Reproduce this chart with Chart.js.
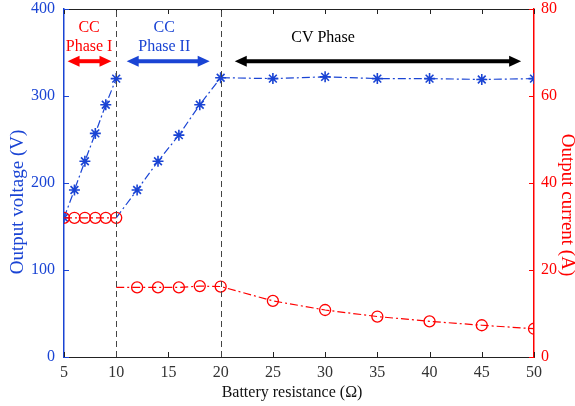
<!DOCTYPE html>
<html>
<head>
<meta charset="utf-8">
<script src="https://cdn.jsdelivr.net/npm/chart.js@4/dist/chart.umd.min.js"></script>
<style>
html,body{margin:0;padding:0;background:#fff;}
#wrap{width:575px;height:406px;position:relative;}
</style>
</head>
<body>
<div id="wrap"><canvas id="c"></canvas></div>
<script>
// ---- data ----
const resistancePhaseI = [5, 6, 7, 8, 9, 10];
const voltagePhaseI = [160, 192, 225, 257, 290, 320];
const currentPhaseI = [32, 32, 32, 32, 32, 32];
// phase II + CV (first entry is the line start at 10 Ω, no marker)
const resistanceRest = [10, 12, 14, 16, 18, 20, 25, 30, 35, 40, 45, 50];
const voltageRest = [160, 192, 225, 255, 290, 321, 320, 322, 320, 320, 319, 320];
const currentRest = [16, 16, 16, 16, 16.3, 16.2, 12.9, 10.8, 9.3, 8.2, 7.3, 6.5];
const xTicks = [5, 10, 15, 20, 25, 30, 35, 40, 45, 50];
const voltageTicks = [0, 100, 200, 300, 400];
const currentTicks = [0, 20, 40, 60, 80];
const phaseBoundaries = [10, 20];

const BLUE = '#1a44d4';
const RED = '#ff0000';
const SERIF = '"Liberation Serif", "Times New Roman", serif';

const pts = (xs, ys) => xs.map((x, i) => ({x: x, y: ys[i]}));
const restRadius = (r) => resistanceRest.map((x, i) => i === 0 ? 0 : r);

const overlay = {
  id: 'overlay',
  afterDatasetsDraw(chart) {
    const ctx = chart.ctx;
    const xs = chart.scales.x, yl = chart.scales.yV, yr = chart.scales.yI;
    const a = chart.chartArea;
    ctx.save();
    // top border
    ctx.strokeStyle = '#222'; ctx.lineWidth = 1; ctx.setLineDash([]);
    ctx.beginPath(); ctx.moveTo(a.left, Math.round(a.top) + 0.5); ctx.lineTo(a.right, Math.round(a.top) + 0.5); ctx.stroke();
    // x ticks inward (bottom & top)
    xTicks.forEach(v => {
      const px = Math.round(xs.getPixelForValue(v)) + 0.5;
      ctx.beginPath();
      ctx.moveTo(px, a.bottom); ctx.lineTo(px, a.bottom - 5);
      ctx.moveTo(px, a.top); ctx.lineTo(px, a.top + 5);
      ctx.stroke();
    });
    // left ticks
    ctx.strokeStyle = BLUE;
    voltageTicks.forEach(v => {
      const py = Math.round(yl.getPixelForValue(v)) + 0.5;
      ctx.beginPath(); ctx.moveTo(a.left, py); ctx.lineTo(a.left + 5, py); ctx.stroke();
    });
    ctx.strokeStyle = RED;
    currentTicks.forEach(v => {
      const py = Math.round(yr.getPixelForValue(v)) + 0.5;
      ctx.beginPath(); ctx.moveTo(a.right, py); ctx.lineTo(a.right - 5, py); ctx.stroke();
    });
    // phase boundaries
    ctx.strokeStyle = '#444'; ctx.setLineDash([6, 4]); ctx.lineWidth = 1;
    phaseBoundaries.forEach(v => {
      const px = Math.round(xs.getPixelForValue(v)) + 0.5;
      ctx.beginPath(); ctx.moveTo(px, a.bottom); ctx.lineTo(px, a.top); ctx.stroke();
    });
    ctx.setLineDash([]);
    // arrows
    const arrow = (x0, x1, yv, color, w) => {
      const p0 = xs.getPixelForValue(x0), p1 = xs.getPixelForValue(x1), py = yl.getPixelForValue(yv);
      const hl = 12, hw = 5.5;
      ctx.fillStyle = color; ctx.strokeStyle = color; ctx.lineWidth = w;
      ctx.beginPath(); ctx.moveTo(p0 + hl - 1, py); ctx.lineTo(p1 - hl + 1, py); ctx.stroke();
      ctx.beginPath(); ctx.moveTo(p0, py); ctx.lineTo(p0 + hl, py - hw); ctx.lineTo(p0 + hl, py + hw); ctx.closePath(); ctx.fill();
      ctx.beginPath(); ctx.moveTo(p1, py); ctx.lineTo(p1 - hl, py - hw); ctx.lineTo(p1 - hl, py + hw); ctx.closePath(); ctx.fill();
    };
    arrow(5.34, 9.55, 340, RED, 4);
    arrow(11.0, 18.95, 340, BLUE, 4);
    arrow(21.35, 48.77, 340, '#000', 4);
    // labels
    ctx.font = '16px ' + SERIF; ctx.textAlign = 'center'; ctx.textBaseline = 'middle';
    const txt = (s, xv, yv, c) => { ctx.fillStyle = c; ctx.fillText(s, xs.getPixelForValue(xv), yl.getPixelForValue(yv)); };
    txt('CC', 7.4, 378, RED);
    txt('Phase I', 7.4, 356, RED);
    txt('CC', 14.6, 378, BLUE);
    txt('Phase II', 14.6, 356, BLUE);
    txt('CV Phase', 29.8, 367, '#000');
    // axis titles
    ctx.fillStyle = '#111';
    ctx.fillText('Battery resistance (Ω)', 292, 393);
    ctx.font = '19px ' + SERIF;
    ctx.save(); ctx.translate(18, 202); ctx.rotate(-Math.PI / 2);
    ctx.fillStyle = BLUE; ctx.fillText('Output voltage (V)', 0, 0); ctx.restore();
    ctx.save(); ctx.translate(567, 205); ctx.rotate(Math.PI / 2);
    ctx.fillStyle = RED; ctx.fillText('Output current (A)', 0, 0); ctx.restore();
    ctx.restore();
  }
};

const fitY = (w) => (s) => { s.width = w; s.paddingTop = 9; s.paddingBottom = 9; };

new Chart(document.getElementById('c'), {
  type: 'line',
  data: {
    datasets: [
      {
        label: 'Current I', yAxisID: 'yI', data: pts(resistancePhaseI, currentPhaseI),
        borderColor: RED, borderWidth: 1.2, borderDash: [8, 3, 2, 3],
        pointStyle: 'circle', pointRadius: 5.5, pointBorderWidth: 1.3,
        pointBorderColor: RED, pointBackgroundColor: 'rgba(0,0,0,0)', tension: 0
      },
      {
        label: 'Current rest', yAxisID: 'yI', data: pts(resistanceRest, currentRest),
        borderColor: RED, borderWidth: 1.2, borderDash: [8, 3, 2, 3],
        pointStyle: 'circle', pointRadius: restRadius(5.5), pointBorderWidth: 1.3,
        pointBorderColor: RED, pointBackgroundColor: 'rgba(0,0,0,0)', tension: 0
      },
      {
        label: 'Voltage I', yAxisID: 'yV', data: pts(resistancePhaseI, voltagePhaseI),
        borderColor: BLUE, borderWidth: 1.2, borderDash: [8, 3, 2, 3],
        pointStyle: 'star', pointRadius: 5.5, pointBorderWidth: 1.6,
        pointBorderColor: BLUE, pointBackgroundColor: BLUE, tension: 0
      },
      {
        label: 'Voltage rest', yAxisID: 'yV', data: pts(resistanceRest, voltageRest),
        borderColor: BLUE, borderWidth: 1.2, borderDash: [8, 3, 2, 3],
        pointStyle: 'star', pointRadius: restRadius(5.5), pointBorderWidth: 1.6,
        pointBorderColor: BLUE, pointBackgroundColor: BLUE, tension: 0
      }
    ]
  },
  options: {
    responsive: true, maintainAspectRatio: false, animation: false,
    layout: {padding: {top: 0, left: 0, right: 0, bottom: 0}},
    plugins: {legend: {display: false}, tooltip: {enabled: false}},
    elements: {point: {hoverRadius: 5}},
    scales: {
      x: {
        type: 'linear', min: 5, max: 50,
        afterFit: s => { s.height = 49; },
        afterBuildTicks: s => { s.ticks = xTicks.map(v => ({value: v})); },
        grid: {display: false, drawTicks: false},
        border: {display: true, color: '#222', width: 1},
        ticks: {color: '#333', font: {family: SERIF, size: 16}, padding: 6, maxRotation: 0},
        title: {display: false}
      },
      yV: {
        type: 'linear', position: 'left', min: 0, max: 400,
        afterFit: fitY(64),
        afterBuildTicks: s => { s.ticks = voltageTicks.map(v => ({value: v})); },
        grid: {display: false, drawTicks: false},
        border: {display: true, color: BLUE, width: 1.5},
        ticks: {color: BLUE, font: {family: SERIF, size: 16}, padding: 9},
        title: {display: false}
      },
      yI: {
        type: 'linear', position: 'right', min: 0, max: 80,
        afterFit: fitY(41),
        afterBuildTicks: s => { s.ticks = currentTicks.map(v => ({value: v})); },
        grid: {display: false, drawTicks: false},
        border: {display: true, color: RED, width: 1.5},
        ticks: {color: RED, font: {family: SERIF, size: 16}, padding: 7},
        title: {display: false}
      }
    }
  },
  plugins: [overlay]
});
</script>
</body>
</html>
